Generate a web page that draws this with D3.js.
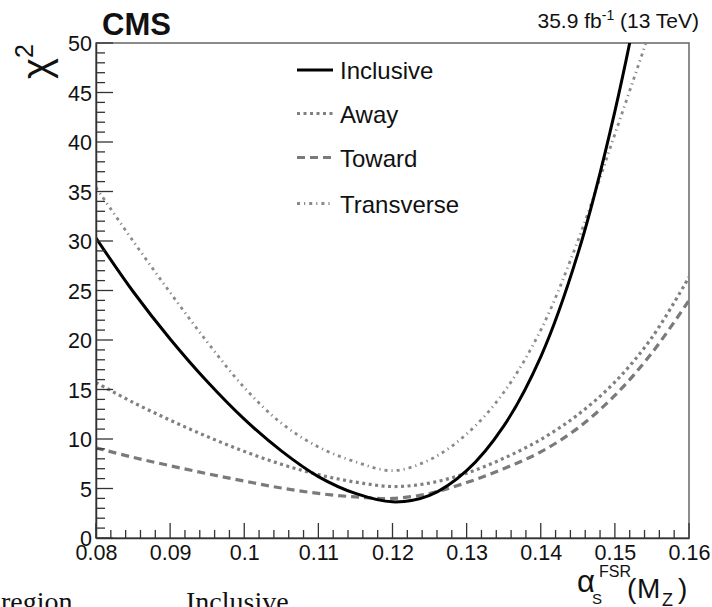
<!DOCTYPE html>
<html>
<head>
<meta charset="utf-8">
<script src="https://cdn.jsdelivr.net/npm/d3@7"></script>
<style>
  html, body { margin: 0; padding: 0; background: #fff; }
  svg { display: block; }
  text { font-family: "Liberation Sans", Arial, Helvetica, sans-serif; fill: #111; }
</style>
</head>
<body>
<svg id="chart" width="712" height="607"></svg>
<script>
// alpha_S^FSR(M_Z) scan points
const alphaS = [0.080, 0.085, 0.090, 0.095, 0.100, 0.105, 0.110, 0.115, 0.120,
                0.125, 0.130, 0.135, 0.140, 0.145, 0.150, 0.155, 0.160];

// chi2 per event region
const chi2Inclusive  = [30.3, 24.9, 20.1, 15.8, 12.0, 8.8, 6.2, 4.5, 3.65, 4.3, 6.8, 11.3, 18.3, 28.7, 43.1, 61.7, 84.7];
const chi2Away       = [15.7, 13.7, 11.9, 10.25, 8.75, 7.45, 6.4, 5.65, 5.2, 5.55, 6.55, 8.05, 9.95, 12.45, 15.75, 20.25, 26.35];
const chi2Toward     = [9.1, 8.15, 7.3, 6.5, 5.75, 5.05, 4.5, 4.15, 4.0, 4.5, 5.6, 7.0, 8.7, 11.1, 14.4, 18.7, 24.0];
const chi2Transverse = [35.4, 30.0, 24.8, 19.8, 15.2, 11.6, 9.2, 7.7, 6.8, 7.9, 10.5, 14.7, 21.0, 30.0, 40.8, 51.8, 63.0];

const xTicks = [0.08, 0.09, 0.10, 0.11, 0.12, 0.13, 0.14, 0.15, 0.16];
const xTickLabels = ["0.08", "0.09", "0.1", "0.11", "0.12", "0.13", "0.14", "0.15", "0.16"];
const yTicks = [0, 5, 10, 15, 20, 25, 30, 35, 40, 45, 50];

const seriesNames = ["Inclusive", "Away", "Toward", "Transverse"];

const styles = {
  Inclusive:  { color: "#000",    width: 3,   dash: null },
  Away:       { color: "#808080", width: 3.2, dash: "3 3.5" },
  Toward:     { color: "#7a7a7a", width: 3.2, dash: "8 5" },
  Transverse: { color: "#8a8a8a", width: 2.8, dash: "3 4 1.2 4" }
};

const seriesData = {
  Inclusive: chi2Inclusive,
  Away: chi2Away,
  Toward: chi2Toward,
  Transverse: chi2Transverse
};

const L = 96, R = 689, T = 43, B = 538;
const svg = d3.select("#chart");

const x = d3.scaleLinear().domain([0.08, 0.16]).range([L, R]);
const y = d3.scaleLinear().domain([0, 50]).range([B, T]);

svg.append("defs").append("clipPath").attr("id", "plotClip")
  .append("rect").attr("x", L).attr("y", T).attr("width", R - L).attr("height", B - T);

// frame
svg.append("rect")
  .attr("x", L).attr("y", T).attr("width", R - L).attr("height", B - T)
  .attr("fill", "none").attr("stroke", "#666").attr("stroke-width", 1.5);

// curves
const line = d3.line()
  .x((d, i) => x(alphaS[i]))
  .y(d => y(d))
  .curve(d3.curveCatmullRom.alpha(0.5));

const plot = svg.append("g").attr("clip-path", "url(#plotClip)");
["Transverse", "Away", "Toward", "Inclusive"].forEach(name => {
  const s = styles[name];
  plot.append("path")
    .attr("d", line(seriesData[name]))
    .attr("fill", "none")
    .attr("stroke", s.color)
    .attr("stroke-width", s.width)
    .attr("stroke-dasharray", s.dash);
});

// x axis
const xAxis = d3.axisBottom(x)
  .tickValues(xTicks)
  .tickSize(0)
  .tickFormat((d, i) => xTickLabels[i]);
const gx = svg.append("g").attr("transform", `translate(0,${B})`).call(xAxis);
gx.select(".domain").attr("stroke", "#333").attr("stroke-width", 1.5);
gx.selectAll(".tick text")
  .attr("font-size", 21.5).attr("dy", 0).attr("y", 22).attr("fill", "#111")
  .style("font-family", "Liberation Sans, Arial, sans-serif");

// x ticks (major + minor), drawn upward into the frame
const xMinor = d3.range(0, 41).map(i => 0.08 + i * 0.002);
svg.append("g").selectAll("line").data(xMinor).join("line")
  .attr("x1", d => x(d)).attr("x2", d => x(d))
  .attr("y1", B).attr("y2", (d, i) => i % 5 === 0 ? B - 15 : B - 8)
  .attr("stroke", "#333").attr("stroke-width", 1.3);

// y axis
const yAxis = d3.axisLeft(y).tickValues(yTicks).tickSize(0).tickFormat(d3.format("d"));
const gy = svg.append("g").attr("transform", `translate(${L},0)`).call(yAxis);
gy.select(".domain").attr("stroke", "#333").attr("stroke-width", 1.5);
gy.selectAll(".tick text")
  .attr("font-size", 21.5).attr("x", -4).attr("dy", "0.36em").attr("fill", "#111")
  .style("font-family", "Liberation Sans, Arial, sans-serif");

const yMinor = d3.range(0, 51);
svg.append("g").selectAll("line").data(yMinor).join("line")
  .attr("y1", d => y(d)).attr("y2", d => y(d))
  .attr("x1", L).attr("x2", d => d % 5 === 0 ? L + 17 : L + 9)
  .attr("stroke", "#333").attr("stroke-width", 1.3);

// legend
const legendRows = [79, 122.5, 166.5, 212.5];
const leg = svg.append("g");
seriesNames.forEach((name, i) => {
  const s = styles[name];
  const by = legendRows[i];
  leg.append("line")
    .attr("x1", 297).attr("x2", 333)
    .attr("y1", by - 9).attr("y2", by - 9)
    .attr("stroke", s.color).attr("stroke-width", s.width)
    .attr("stroke-dasharray", s.dash);
  leg.append("text")
    .attr("x", 340).attr("y", by)
    .attr("font-size", 24)
    .text(name);
});

// CMS label
svg.append("text")
  .attr("x", 102).attr("y", 35)
  .attr("font-size", 31).attr("font-weight", "bold")
  .text("CMS");

// luminosity label
const lumi = svg.append("text")
  .attr("x", 699).attr("y", 28).attr("text-anchor", "end")
  .attr("font-size", 21);
lumi.append("tspan").text("35.9 fb");
lumi.append("tspan").attr("dy", -8).attr("font-size", 14).text("-1");
lumi.append("tspan").attr("dy", 8).text(" (13 TeV)");

// y axis title: chi^2
const yt = svg.append("text")
  .attr("transform", "translate(50,44) rotate(-90)")
  .attr("text-anchor", "end")
  .attr("font-size", 40);
yt.append("tspan").text("χ");
yt.append("tspan").attr("dy", -17).attr("font-size", 25).text("2");

// x axis title: alpha_S^FSR(M_Z)
const xt = svg.append("g").attr("class", "xtitle");
xt.append("text").attr("x", 577).attr("y", 592).attr("font-size", 31).text("α");
xt.append("text").attr("x", 599).attr("y", 577).attr("font-size", 16).text("FSR");
xt.append("text").attr("x", 592).attr("y", 604).attr("font-size", 15).text("S");
xt.append("text").attr("x", 627).attr("y", 598).attr("font-size", 28).text("(");
xt.append("text").attr("x", 637).attr("y", 598).attr("font-size", 28).text("M");
xt.append("text").attr("x", 662).attr("y", 606).attr("font-size", 18).text("Z");
xt.append("text").attr("x", 678).attr("y", 598).attr("font-size", 28).text(")");

// start of the table header beneath the figure
svg.append("text").attr("x", 1).attr("y", 611)
  .attr("font-size", 28).style("font-family", "Liberation Serif, Times New Roman, serif")
  .text("region");
svg.append("text").attr("x", 186).attr("y", 611)
  .attr("font-size", 28).style("font-family", "Liberation Serif, Times New Roman, serif")
  .text("Inclusive");
</script>
</body>
</html>
